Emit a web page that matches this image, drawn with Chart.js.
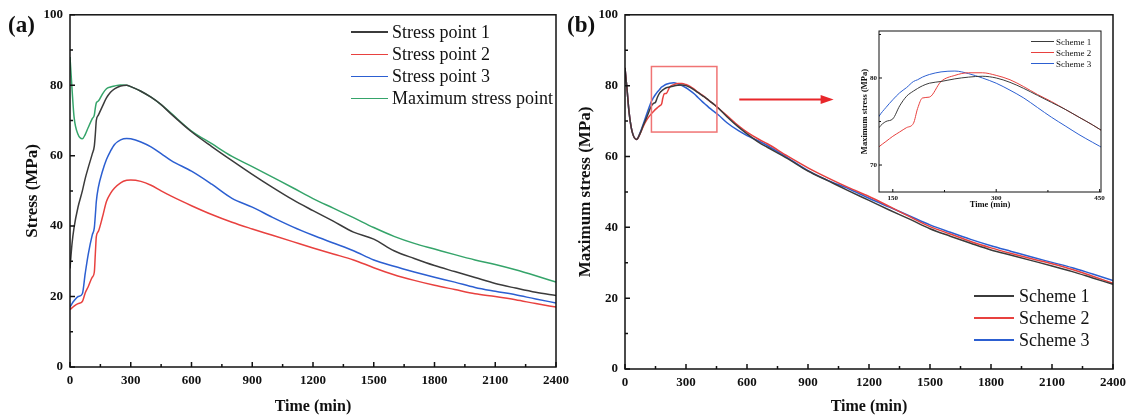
<!DOCTYPE html>
<html>
<head>
<meta charset="utf-8">
<script src="https://cdn.jsdelivr.net/npm/chart.js@4.4.0/dist/chart.umd.min.js"></script>
<style>
  html, body { margin: 0; padding: 0; background: #fff; }
  #wrap { position: relative; width: 1132px; height: 416px; overflow: hidden; font-family: 'Liberation Serif', 'Times New Roman', serif; color: #111; }
  canvas { position: absolute; }
  .tag { position: absolute; font-weight: bold; font-size: 23px; line-height: 1; }
  .legend { position: absolute; }
  .legend .row { display: flex; align-items: center; white-space: nowrap; }
</style>
</head>
<body>
<div id="wrap">
  <canvas id="chartA" width="575" height="416" style="left:0;top:0"></canvas>
  <canvas id="chartB" width="577" height="416" style="left:555px;top:0"></canvas>
  <canvas id="chartInset" width="275" height="196" style="left:840px;top:20px"></canvas>
  <div class="tag" style="left:8px;top:13px">(a)</div>
  <div class="tag" style="left:567px;top:13px">(b)</div>
  <div id="legendA" class="legend" style="left:351px;top:21px"></div>
  <div id="legendB" class="legend" style="left:974px;top:285px"></div>
  <div id="legendInset" class="legend" style="left:1031px;top:36px"></div>
</div>
<script>
// Panel (a): stress at the monitored points
const timeA = [0, 10, 20, 40, 61, 75, 90, 110, 120, 125, 130, 140, 160, 180, 200, 220, 250, 280, 300, 350,
  400, 450, 500, 600, 700, 800, 900, 1000, 1100, 1200, 1300, 1400, 1500, 1600, 1700, 1800, 1900, 2000, 2100, 2200, 2300, 2400];
const stressPoint1 = [28, 35, 39.6, 45.5, 50, 53.5, 56.6, 60.5, 62.7, 66, 70, 71.5, 74, 76.4, 78, 79, 79.8, 80, 79.6, 78.3,
  76.6, 74.5, 71.8, 66.8, 62.6, 58.6, 54.7, 51, 47.5, 44.4, 41.4, 38.3, 36.3, 33, 30.8, 28.8, 27.1, 25.4, 23.7, 22.4, 21.2, 20.3];
const stressPoint2 = [16.3, 16.8, 17.3, 18, 18.6, 21, 22.8, 25.5, 26.9, 32, 37, 38.5, 42.5, 47, 49.3, 50.8, 52.3, 53, 53.1, 52.7,
  51.6, 50, 48.5, 45.8, 43.3, 41.1, 39.2, 37.4, 35.6, 33.8, 32.1, 30.4, 28.2, 26.2, 24.6, 23.2, 22, 20.8, 20, 19.1, 18, 17];
const stressPoint3 = [17, 18, 18.8, 20, 20.8, 26.5, 32, 37.5, 39.5, 43, 47, 51, 55.5, 58.9, 61.3, 63.2, 64.5, 64.9, 64.8, 63.9,
  62.5, 60.6, 58.6, 55.6, 51.9, 47.9, 45.4, 42.5, 39.8, 37.4, 35.2, 33, 30.4, 28.6, 27, 25.5, 24.1, 22.6, 21.5, 20.5, 19.3, 18.2];
const maxStressPoint = [88, 79, 71, 66, 64.8, 66, 68, 70.5, 71.5, 73.5, 75, 75.5, 77.5, 79, 79.5, 79.8, 80.1, 80, 79.6, 78.3,
  76.6, 74.5, 72, 67, 63.4, 59.8, 56.9, 53.9, 50.9, 47.8, 45.1, 42.4, 39.6, 37.1, 35.1, 33.5, 31.9, 30.4, 29.1, 27.6, 25.9, 24.1];

// Panel (b): maximum stress for the three schemes
const timeB = [0, 10, 20, 35, 57, 75, 90, 110, 130, 140, 150, 160, 170, 180, 186, 193, 203, 220, 240, 260,
  280, 300, 320, 340, 360, 380, 400, 420, 440, 460, 500, 560, 600, 660, 700, 800, 900, 1000, 1100, 1200,
  1300, 1400, 1500, 1600, 1700, 1800, 1900, 2000, 2100, 2200, 2300, 2400];
const scheme1 = [85, 79, 72.5, 67, 64.8, 66.6, 68.8, 71.5, 74.3, 75, 75.3, 76.8, 77.9, 78.5, 78.8, 79.1, 79.4, 79.6, 79.9, 80.1,
  80.2, 80, 79.5, 78.8, 78, 77.2, 76.4, 75.5, 74.6, 73.6, 71.3, 68.2, 66.4, 63.9, 62.6, 59.4, 55.9, 53.1, 50.3, 47.6,
  44.9, 42.3, 39.6, 37.5, 35.5, 33.6, 32.1, 30.6, 29.1, 27.5, 25.7, 23.9];
const scheme2 = [85, 79, 72.5, 67, 64.8, 66.5, 68.5, 70.6, 72.1, 72.7, 73.3, 73.8, 74.3, 74.8, 76.5, 77.7, 77.8, 79.6, 80.3, 80.6,
  80.6, 80.3, 79.8, 79, 78.1, 77.3, 76.4, 75.5, 74.6, 73.6, 71.6, 68.6, 66.9, 64.8, 63.6, 60.1, 56.8, 53.9, 51.2, 48.7,
  45.9, 43, 40.2, 38.1, 36, 34.2, 32.6, 31.1, 29.7, 28.1, 26.2, 24.2];
const scheme3 = [85, 79, 72.5, 67, 64.8, 66.8, 69.2, 72.5, 75.6, 76.6, 77.5, 78.3, 78.9, 79.6, 79.8, 80.1, 80.4, 80.7, 80.8, 80.5,
  80, 79.4, 78.6, 77.7, 76.6, 75.5, 74.5, 73.5, 72.6, 71.7, 69.6, 67.2, 65.9, 64.3, 63.1, 59.6, 56, 53.2, 50.9, 48.2,
  45.7, 43.2, 40.7, 38.6, 36.6, 34.8, 33.2, 31.6, 30.1, 28.6, 26.8, 25];

// Tick labels
const timeTicks = [0, 300, 600, 900, 1200, 1500, 1800, 2100, 2400];
const stressTicks = [0, 20, 40, 60, 80, 100];
const insetTimeTicks = [150, 300, 450];
const insetStressTicks = [70, 80];

// Region shown enlarged in the inset
const zoomWindow = { xMin: 130, xMax: 452, yMin: 66.9, yMax: 85.4 };

const BLACK = '#3b3b3b', RED = '#e8413f', BLUE = '#2c5fd1', GREEN = '#35a46a';

Chart.defaults.font.family = "'Liberation Serif', 'Times New Roman', serif";
Chart.defaults.color = '#111';

function series(label, times, values, color, width) {
  return {
    label,
    data: times.map((t, i) => ({ x: t, y: values[i] })),
    borderColor: color,
    backgroundColor: color,
    borderWidth: width,
    pointRadius: 0,
    cubicInterpolationMode: 'monotone',
    fill: false
  };
}

function axis(tickValues, min, max, o) {
  return {
    type: 'linear',
    min, max,
    afterBuildTicks: s => { s.ticks = tickValues.map(v => ({ value: v })); },
    afterFit: s => { if (s.isHorizontal()) s.height = o.size; else s.width = o.size; },
    grid: { display: false, drawTicks: false },
    border: { display: false },
    ticks: {
      font: { size: o.tick, weight: 'bold' },
      color: '#111',
      padding: o.pad,
      maxRotation: 0,
      autoSkip: false,
      callback: v => String(v)
    },
    title: { display: true, text: o.title, color: '#111', font: { size: o.titleSize, weight: 'bold' }, padding: o.titlePad }
  };
}

// Box around the plot with inward major/minor ticks
const framePlugin = {
  id: 'frame',
  afterDraw(chart, args, o) {
    const { ctx, chartArea: a, scales: { x, y } } = chart;
    ctx.save();
    ctx.strokeStyle = '#111';
    ctx.lineWidth = o.width;
    ctx.strokeRect(a.left, a.top, a.right - a.left, a.bottom - a.top);
    const isMajor = (scale, v) => scale.ticks.some(t => Math.abs(t.value - v) < 1e-6);
    ctx.beginPath();
    for (let v = Math.ceil(x.min / o.xStep) * o.xStep; v <= x.max; v += o.xStep) {
      const px = x.getPixelForValue(v);
      const len = isMajor(x, v) ? o.major : o.minor;
      ctx.moveTo(px, a.bottom);
      ctx.lineTo(px, a.bottom - len);
    }
    for (let v = Math.ceil(y.min / o.yStep) * o.yStep; v <= y.max; v += o.yStep) {
      const py = y.getPixelForValue(v);
      const len = isMajor(y, v) ? o.major : o.minor;
      ctx.moveTo(a.left, py);
      ctx.lineTo(a.left + len, py);
    }
    ctx.stroke();
    ctx.restore();
  }
};

// Red box marking the zoomed region and the arrow pointing to the inset
const zoomMarker = {
  id: 'zoomMarker',
  afterDatasetsDraw(chart, args, o) {
    const { ctx, scales: { x, y } } = chart;
    const l = x.getPixelForValue(zoomWindow.xMin), r = x.getPixelForValue(zoomWindow.xMax);
    const t = y.getPixelForValue(zoomWindow.yMax), b = y.getPixelForValue(zoomWindow.yMin);
    ctx.save();
    ctx.strokeStyle = '#f07474';
    ctx.lineWidth = 1.5;
    ctx.strokeRect(l, t, r - l, b - t);

    const x0 = x.getPixelForValue(o.arrowFrom), x1 = x.getPixelForValue(o.arrowTo);
    const ay = y.getPixelForValue(o.arrowY);
    ctx.strokeStyle = '#e8262a';
    ctx.fillStyle = '#e8262a';
    ctx.lineWidth = 2;
    ctx.beginPath();
    ctx.moveTo(x0, ay);
    ctx.lineTo(x1 - 10, ay);
    ctx.stroke();
    ctx.beginPath();
    ctx.moveTo(x1, ay);
    ctx.lineTo(x1 - 13, ay - 4.5);
    ctx.lineTo(x1 - 13, ay + 4.5);
    ctx.closePath();
    ctx.fill();
    ctx.restore();
  }
};

function buildLegend(chart, id, o) {
  const box = document.getElementById(id);
  box.style.fontSize = o.font + 'px';
  chart.data.datasets.forEach(ds => {
    const row = document.createElement('div');
    row.className = 'row';
    row.style.height = o.row + 'px';
    const line = document.createElement('span');
    line.style.cssText = `display:inline-block;width:${o.line}px;height:${o.thick}px;background:${ds.borderColor};margin-right:${o.gap}px`;
    const text = document.createElement('span');
    text.textContent = ds.label;
    row.append(line, text);
    box.appendChild(row);
  });
}

const baseOptions = {
  responsive: false,
  animation: false,
  devicePixelRatio: 1,
  events: [],
  plugins: { legend: { display: false }, tooltip: { enabled: false } }
};

// Panel (a)
const chartA = new Chart(document.getElementById('chartA'), {
  type: 'line',
  data: {
    datasets: [
      series('Stress point 1', timeA, stressPoint1, BLACK, 1.5),
      series('Stress point 2', timeA, stressPoint2, RED, 1.5),
      series('Stress point 3', timeA, stressPoint3, BLUE, 1.5),
      series('Maximum stress point', timeA, maxStressPoint, GREEN, 1.5)
    ]
  },
  options: {
    ...baseOptions,
    layout: { padding: { top: 13, right: 18, left: 0, bottom: 0 } },
    scales: {
      x: axis(timeTicks, 0, 2400, { size: 49, tick: 13, pad: 6, title: 'Time (min)', titleSize: 16, titlePad: { top: 0, bottom: 0 } }),
      y: axis(stressTicks, 0, 100, { size: 70, tick: 13, pad: 7, title: 'Stress (MPa)', titleSize: 17, titlePad: { top: 22, bottom: 0 } })
    },
    plugins: {
      ...baseOptions.plugins,
      frame: { width: 1.5, xStep: 150, yStep: 10, major: 5, minor: 3 }
    }
  },
  plugins: [framePlugin]
});

// Panel (b)
const chartB = new Chart(document.getElementById('chartB'), {
  type: 'line',
  data: {
    datasets: [
      series('Scheme 1', timeB, scheme1, BLACK, 1.5),
      series('Scheme 2', timeB, scheme2, RED, 1.5),
      series('Scheme 3', timeB, scheme3, BLUE, 1.5)
    ]
  },
  options: {
    ...baseOptions,
    layout: { padding: { top: 13, right: 16, left: 0, bottom: 0 } },
    scales: {
      x: axis(timeTicks, 0, 2400, { size: 47, tick: 13, pad: 6, title: 'Time (min)', titleSize: 16, titlePad: { top: 0, bottom: 0 } }),
      y: axis(stressTicks, 0, 100, { size: 70, tick: 13, pad: 7, title: 'Maximum stress (MPa)', titleSize: 17, titlePad: { top: 20, bottom: 0 } })
    },
    plugins: {
      ...baseOptions.plugins,
      frame: { width: 1.5, xStep: 150, yStep: 10, major: 5, minor: 3 },
      zoomMarker: { arrowFrom: 562, arrowTo: 1026, arrowY: 76.1 }
    }
  },
  plugins: [framePlugin, zoomMarker]
});

// Inset of panel (b)
const chartInset = new Chart(document.getElementById('chartInset'), {
  type: 'line',
  data: {
    datasets: [
      series('Scheme 1', timeB, scheme1, BLACK, 1),
      series('Scheme 2', timeB, scheme2, RED, 1),
      series('Scheme 3', timeB, scheme3, BLUE, 1)
    ]
  },
  options: {
    ...baseOptions,
    layout: { padding: { top: 11, right: 14, left: 0, bottom: 0 } },
    scales: {
      x: axis(insetTimeTicks, zoomWindow.xMin, zoomWindow.xMax, { size: 24, tick: 7, pad: 1.5, title: 'Time (min)', titleSize: 8.5, titlePad: { top: 0, bottom: 6 } }),
      y: axis(insetStressTicks, zoomWindow.yMin, zoomWindow.yMax, { size: 39, tick: 7, pad: 2, title: 'Maximum stress (MPa)', titleSize: 8.5, titlePad: { top: 20, bottom: 0 } })
    },
    plugins: {
      ...baseOptions.plugins,
      frame: { width: 1, xStep: 75, yStep: 5, major: 3, minor: 2 }
    }
  },
  plugins: [framePlugin]
});

buildLegend(chartA, 'legendA', { font: 18, row: 22.2, line: 37, thick: 1.5, gap: 4 });
buildLegend(chartB, 'legendB', { font: 18, row: 22, line: 40, thick: 1.5, gap: 5 });
buildLegend(chartInset, 'legendInset', { font: 9, row: 11.2, line: 23, thick: 1, gap: 2 });
</script>
</body>
</html>
